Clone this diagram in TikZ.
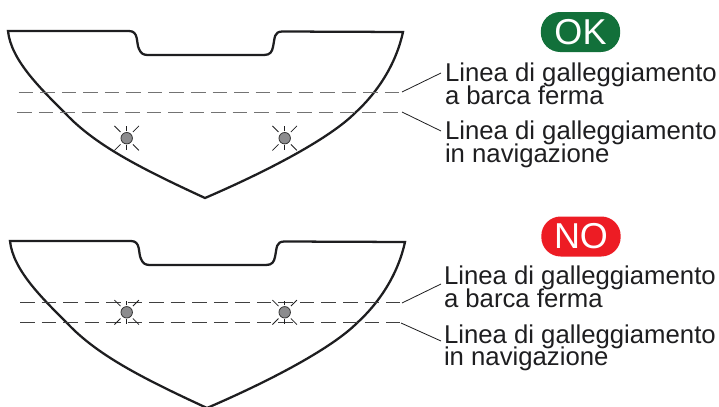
\documentclass[tikz,border=0pt]{standalone}
\usepackage{fontspec}
\setmainfont{Liberation Sans}
\lineskiplimit=-30pt
\definecolor{okgreen}{RGB}{18,112,58}
\definecolor{nored}{RGB}{237,28,36}
\definecolor{ink}{RGB}{30,30,32}
\definecolor{lampgrey}{RGB}{140,140,142}
\tikzset{
  x=0.75pt,y=-0.75pt,
  hull/.style={draw=ink,line width=1.7pt,line join=miter},
  waterlight/.style={draw=black!55,line width=0.95pt,dash pattern=on 10.9pt off 5.25pt},
  waterdark/.style={draw=black!75,line width=0.95pt,dash pattern=on 10.9pt off 5.25pt},
  leader/.style={draw=ink,line width=0.6pt},
  caption/.style={inner sep=0pt,outer sep=0pt,align=left,anchor=north west,text=ink,font=\fontsize{19.3}{17.1}\selectfont},
  pill/.style={rounded corners=14.5pt,inner sep=0pt,text=white,minimum width=59.5pt,minimum height=30pt,font=\fontsize{27}{27}\selectfont},
  lampdot/.style={circle,draw=black!80,fill=lampgrey,line width=0.6pt,minimum size=8.6pt,inner sep=0pt},
  ray/.style={draw=ink,line width=0.6pt},
}
\newcommand{\boathull}[2]{%
  \draw[hull,shift={(#1,#2)}] (8,31) -- (129,31) .. controls (139,31) and (136,43) .. (139,49)
    .. controls (141,54) and (144,55) .. (148,55) -- (264,55)
    .. controls (270,55) and (272,52) .. (273,47) .. controls (275,37) and (274,32) .. (282,31.5)
    -- (403,32) .. controls (396,64) and (378,92) .. (355,113)
    .. controls (330,138) and (270,170) .. (205,198)
    .. controls (140,168) and (95,145) .. (65,113)
    .. controls (40,88) and (11,60) .. (8,31) -- cycle;}
\newcommand{\lamp}[3]{%
  \node[lampdot] (#1) at (#2,#3) {};
  \foreach \a in {90,270}{\draw[ray] (#1) ++(\a:5.2pt) -- ++(\a:3.6pt);}
  \foreach \a in {45,135,225,315}{\draw[ray] (#1) ++(\a:6.6pt) -- ++(\a:6.4pt);}}
\begin{document}
\begin{tikzpicture}
\useasboundingbox (0,0) rectangle (719,407);
\boathull{0}{0}
\boathull{2}{210}
% waterlines, upper view
\coordinate (wa1) at (18.7,92.5); \coordinate (wa2) at (400,92.5);
\coordinate (wb1) at (17.3,112.5); \coordinate (wb2) at (400,112.5);
\draw[waterlight] (wa1) -- (wa2);
\draw[waterlight] (wb1) -- (wb2);
% waterlines, lower view
\coordinate (wc1) at (20,302.5); \coordinate (wc2) at (400,302.5);
\coordinate (wd1) at (20,322.5); \coordinate (wd2) at (400,322.5);
\draw[waterdark] (wc1) -- (wc2);
\draw[waterdark] (wd1) -- (wd2);
% lamps
\lamp{la}{126.7}{138.2}
\lamp{lb}{284.7}{138.2}
\lamp{lc}{126.7}{312.3}
\lamp{ld}{284.7}{312.3}
% badges
\node[pill,fill=okgreen] (ok) at (580.5,32) {OK};
\node[pill,fill=nored] (no) at (581,236.5) {NO};
% captions
\node[caption] (ca) at (445,63) {Linea di galleggiamento\\a barca ferma};
\node[caption] (cb) at (445,121) {Linea di galleggiamento\\in navigazione};
\node[caption] (cc) at (444,266) {Linea di galleggiamento\\a barca ferma};
\node[caption] (cd) at (444,324.5) {Linea di galleggiamento\\in navigazione};
% leaders
\coordinate (pa) at (402,92); \coordinate (qa) at (441,73);
\coordinate (pb) at (402,112); \coordinate (qb) at (441,131);
\coordinate (pc) at (402,303); \coordinate (qc) at (441,284);
\coordinate (pd) at (401,323); \coordinate (qd) at (441,341);
\draw[leader] (pa) -- (qa);
\draw[leader] (pb) -- (qb);
\draw[leader] (pc) -- (qc);
\draw[leader] (pd) -- (qd);
\end{tikzpicture}
\end{document}
